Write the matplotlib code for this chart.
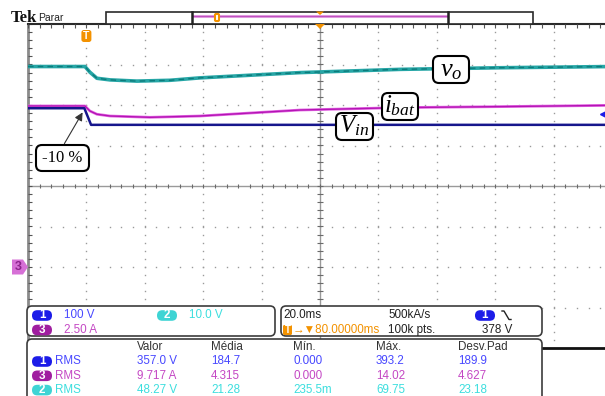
import numpy as np
import matplotlib.pyplot as plt
from matplotlib.patches import FancyBboxPatch, Rectangle, Polygon

plt.rcParams['mathtext.fontset'] = 'custom'
plt.rcParams['mathtext.rm'] = 'Liberation Serif'
plt.rcParams['mathtext.it'] = 'Liberation Serif:italic'
SANS = ['Liberation Sans', 'DejaVu Sans']

# base de tempo: 20 ms/div, 10 divisoes, disparo na 1a divisao
t_div = 20.0
t_trig = 20.0

# escalas verticais (unidade/div) e posicao da referencia (div)
escala = {1: 100.0, 2: 10.0, 3: 2.5}
offset = {1: -2.0, 2: -4.0, 3: -2.0}

# canal 1 - V_in [V]
t_vin = [0, 19.3, 21.6, 200]
vin = [392, 392, 351, 351]

# canal 2 - v_o [V]
t_vo = [0, 19.5, 21.2, 23.6, 28.1, 37.3, 48.6, 58.9, 93.2, 127.4, 161.7, 200]
vo = [69.5, 69.5, 68.1, 66.6, 66.2, 65.9, 66.1, 66.7, 68.0, 68.8, 69.2, 69.5]

# canal 3 - i_bat [A]
t_ibat = [0, 19.5, 21.2, 23.6, 28.1, 41.8, 58.9, 93.2, 127.4, 161.7, 200]
ibat = [9.94, 9.94, 9.63, 9.43, 9.32, 9.24, 9.32, 9.69, 9.84, 9.90, 9.98]

nivel_trig = 378.0  # V, canal 1

# medidas
colunas = ['Valor', 'Média', 'Mín.', 'Máx.', 'Desv.Pad']
med_canais = ['1', '3', '2']
med_valores = [
    ['357.0 V', '184.7', '0.000', '393.2', '189.9'],
    ['9.717 A', '4.315', '0.000', '14.02', '4.627'],
    ['48.27 V', '21.28', '235.5m', '69.75', '23.18'],
]

cor_pill = {'1': '#1c1ce8', '2': '#3ed4d4', '3': '#a01ea0'}
cor_txt = {'1': '#4848ff', '2': '#3cdede', '3': '#c448c4'}
laranja = '#f39200'
FS = 8.4


def to_div(vals, ch):
    return np.asarray(vals, dtype=float) / escala[ch] + offset[ch]


W, H = 605, 396
gx0, gy0 = 28, 24
dx, dy = 58.4, 40.5

fig = plt.figure(figsize=(W / 100, H / 100), dpi=100)
ax = fig.add_axes([gx0 / W, 1 - (gy0 + 8 * dy) / H, 10 * dx / W, 8 * dy / H])
ax.set_xlim(0, 10 * t_div)
ax.set_ylim(-4, 4)
ax.axis('off')

# grade pontilhada
gcol = '#9a9a9a'
ys = np.arange(-4, 4.001, 0.2)
xs = np.arange(0, 10 * t_div + 0.01, t_div / 5)
for k in range(1, 10):
    if k == 5:
        continue
    ax.plot(np.full_like(ys, k * t_div), ys, ls='none', marker='s', ms=1.0, mew=0, color=gcol)
for k in range(-3, 4):
    if k == 0:
        continue
    ax.plot(xs, np.full_like(xs, k), ls='none', marker='s', ms=1.0, mew=0, color=gcol)

# eixos centrais com marcas
ax.axhline(0, color='#9a9a9a', lw=1)
ax.axvline(5 * t_div, color='#9a9a9a', lw=1)
ax.plot(xs, np.zeros_like(xs), ls='none', marker='|', ms=3.5, mew=0.8, color='#6a6a6a')
ax.plot(np.full_like(ys, 5 * t_div), ys, ls='none', marker='_', ms=4, mew=0.8, color='#6a6a6a')

# bordas
ax.plot([0, 0], [-4, 4], color='#8a8a8a', lw=2, clip_on=False)
ax.plot(np.zeros_like(ys), ys, ls='none', marker=1, ms=3, mew=0.8, color='#555555', clip_on=False)
ax.plot([0, 10 * t_div], [4, 4], color='#2a2a2a', lw=1.5, clip_on=False)
ax.plot(xs, np.full_like(xs, 4), ls='none', marker=3, ms=3, mew=0.8, color='#555555', clip_on=False)
ax.plot([0, 10 * t_div], [-4, -4], color='#111111', lw=2, clip_on=False)

# formas de onda
ax.plot(t_vo, to_div(vo, 2), color='#26a6a6', lw=2.6, zorder=4)
ax.plot(t_vo, to_div(vo, 2), color='#0c7b7b', lw=1.0, ls=(0, (4, 3)), zorder=4)
ax.plot(t_ibat, to_div(ibat, 3), color='#e46ae4', lw=2.0, zorder=4)
ax.plot(t_ibat, to_div(ibat, 3), color='#b414b4', lw=1.0, zorder=4)
ax.plot(t_vin, to_div(vin, 1), color='#16168c', lw=1.8, zorder=5)

# nivel de disparo (lado direito)
ax.plot([t_div * 9.85], to_div([nivel_trig], 1), marker='<', ms=5, color='#1c1ce8',
        clip_on=False, zorder=6)

# camada em pixels para textos e caixas
ov = fig.add_axes([0, 0, 1, 1])
ov.set_xlim(0, W)
ov.set_ylim(H, 0)
ov.axis('off')


def rbox(x0, y0, x1, y1, r=5, lw=1.2, ec='#3c3c3c', fc='white', z=5):
    ov.add_patch(FancyBboxPatch((x0, y0), x1 - x0, y1 - y0,
                                boxstyle=f'round,pad=0,rounding_size={r}',
                                lw=lw, ec=ec, fc=fc, zorder=z))


def pill(x, y, label):
    ov.add_patch(FancyBboxPatch((x, y - 5.3), 20, 10.6,
                                boxstyle='round,pad=0,rounding_size=5.3',
                                fc=cor_pill[label], ec='none', zorder=6))
    ov.text(x + 10, y, label, color='white', ha='center', va='center',
            fontsize=FS, fontweight='bold', family=SANS, zorder=7)


def txt(x, y, s, cor, **kw):
    ov.text(x, y, s, color=cor, fontsize=FS, va='center', family=SANS, zorder=7, **kw)


# cabecalho
ov.text(11, 22, 'Tek', family='Liberation Serif', fontweight='bold', fontsize=12,
        va='baseline', color='#111111')
ov.text(38, 21, 'Parar', family=SANS, fontsize=7.5, va='baseline', color='#222222')

ov.add_patch(Rectangle((106, 11.5), 427, 12, fc='white', ec='#2a2a2a', lw=1.2, zorder=3))
ov.plot([193, 447], [16.3, 16.3], color='#e0a0e0', lw=2.2, zorder=4)
ov.plot([193, 447], [16.3, 16.3], color='#c050c0', lw=0.8, zorder=4)
ov.plot([192, 192], [12, 23], color='#222222', lw=1.8, zorder=5)
ov.plot([447.5, 447.5], [12, 23], color='#222222', lw=1.8, zorder=5)
ov.add_patch(FancyBboxPatch((215, 14), 4, 7, boxstyle='round,pad=0,rounding_size=1',
                            fc='white', ec=laranja, lw=1.5, zorder=6))
ov.add_patch(Polygon([(316, 11.5), (324, 11.5), (320, 15)], fc=laranja, ec='none', zorder=6))
ov.add_patch(Polygon([(315, 24), (325, 24), (320, 29)], fc=laranja, ec='none', zorder=6))

# marcador de disparo
xt = gx0 + t_trig / t_div * dx
ov.add_patch(FancyBboxPatch((xt - 5, 30), 10, 12, boxstyle='round,pad=0,rounding_size=2.5',
                            fc=laranja, ec='none', zorder=6))
ov.text(xt, 36, 'T', color='white', ha='center', va='center', fontsize=7.5,
        fontweight='bold', family=SANS, zorder=7)

# marcador de referencia do canal 3
yr = gy0 + (4 - offset[3]) * dy
ov.add_patch(Polygon([(12, yr - 7.5), (23, yr - 7.5), (28, yr), (23, yr + 7.5), (12, yr + 7.5)],
                     fc='#d670d6', ec='none', zorder=6))
ov.text(18.5, yr, '3', color='#8a228a', ha='center', va='center', fontsize=9,
        fontweight='bold', family=SANS, zorder=7)

# rotulos das formas de onda
rbox(433, 56, 469, 83, r=6, lw=1.5, ec='black')
ov.text(451, 69.5, r'$v_o$', fontsize=19, ha='center', va='center', zorder=7)
rbox(382, 93, 418, 120, r=6, lw=1.5, ec='black')
ov.text(400, 106, r'$i_{bat}$', fontsize=18, ha='center', va='center', zorder=7)
rbox(336, 113, 373, 140, r=6, lw=1.5, ec='black')
ov.text(354.5, 126, r'$V_{in}$', fontsize=18, ha='center', va='center', zorder=7)
rbox(36, 145, 89, 171, r=6, lw=1.5, ec='black')
ov.text(62.5, 158, '-10 %', family='Liberation Serif', fontsize=12, ha='center',
        va='center', zorder=7)
ov.annotate('', xy=(84, 110), xytext=(63, 146),
            arrowprops=dict(arrowstyle='-|>', color='#333333', lw=0.8, mutation_scale=12),
            zorder=7)

# leitura de escalas verticais
rbox(27, 306, 275, 336)
pill(32, 315.5, '1')
txt(64, 315.5, '100 V', cor_txt['1'])
pill(157, 315.5, '2')
txt(189, 315.5, '10.0 V', cor_txt['2'])
pill(32, 330, '3')
txt(64, 330, '2.50 A', cor_txt['3'])

# leitura horizontal e de disparo
rbox(281, 306, 542, 336)
txt(283, 315.5, '20.0ms', '#222222')
txt(388, 315.5, '500kA/s', '#222222')
pill(475, 315.5, '1')
ov.plot([502, 504, 509, 511], [311, 311, 319.5, 319.5], color='#222222', lw=1, zorder=7)
ov.add_patch(FancyBboxPatch((283, 325), 9, 10, boxstyle='round,pad=0,rounding_size=1.5',
                            fc=laranja, ec='none', zorder=6))
ov.text(287.5, 330, 'T', color='white', ha='center', va='center', fontsize=7,
        fontweight='bold', family=SANS, zorder=7)
txt(293, 330, '→▼80.00000ms', laranja)
txt(388, 330, '100k pts.', '#222222')
txt(512, 330, f'{nivel_trig:.0f} V', '#222222', ha='right')

# tabela de medidas
rbox(27, 339, 542, 420)
col_x = [137, 211, 293, 376, 458]
for cx, nome in zip(col_x, colunas):
    txt(cx, 347, nome, '#333333')
for i, (ch, vals) in enumerate(zip(med_canais, med_valores)):
    yy = 361.5 + 14.3 * i
    pill(32, yy, ch)
    txt(55, yy, 'RMS', cor_txt[ch])
    for cx, v in zip(col_x, vals):
        txt(cx, yy, v, cor_txt[ch])

fig.savefig('out.png', dpi=100)
